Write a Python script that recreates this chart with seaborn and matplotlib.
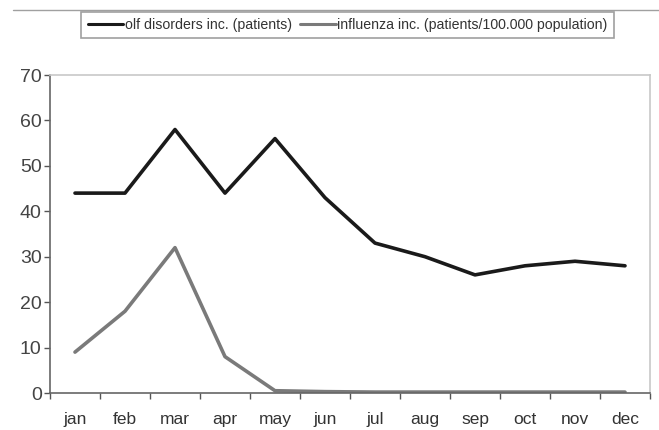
import matplotlib
matplotlib.use("Agg")
import matplotlib.pyplot as plt
from matplotlib.lines import Line2D
from matplotlib.ticker import FixedLocator, NullFormatter
import seaborn as sns
import pandas as pd

months = ["jan", "feb", "mar", "apr", "may", "jun", "jul", "aug", "sep", "oct", "nov", "dec"]
olf_disorders = [44, 44, 58, 44, 56, 43, 33, 30, 26, 28, 29, 28]
influenza = [9, 18, 32, 8, 0.5, 0.3, 0.2, 0.2, 0.2, 0.2, 0.2, 0.2]
series_names = ["olf disorders inc. (patients)", "influenza inc. (patients/100.000 population)"]
yticks = [0, 10, 20, 30, 40, 50, 60, 70]

sns.set_theme(style="white")
plt.rcParams["font.family"] = ["Liberation Sans", "DejaVu Sans"]

df = pd.DataFrame({
    "x": list(range(len(months))) * 2,
    "value": olf_disorders + influenza,
    "series": [series_names[0]] * len(months) + [series_names[1]] * len(months),
})

fig = plt.figure(figsize=(6.59, 4.30), dpi=100)
ax = fig.add_axes([50 / 659, 37 / 430, 600 / 659, 318 / 430])

palette = {series_names[0]: "#1a1a1a", series_names[1]: "#7a7a7a"}
sns.lineplot(data=df, x="x", y="value", hue="series", palette=palette,
             linewidth=2.6, ax=ax, legend=False, sort=False)

ax.set_xlim(-0.5, len(months) - 0.5)
ax.set_ylim(0, 70)
ax.set_xlabel("")
ax.set_ylabel("")

# category axis: ticks between categories, labels centred on them
ax.xaxis.set_major_locator(FixedLocator([i - 0.5 for i in range(len(months) + 1)]))
ax.xaxis.set_major_formatter(NullFormatter())
ax.set_xticks(range(len(months)), minor=True)
ax.set_xticklabels(months, minor=True)
ax.tick_params(axis="x", which="major", direction="out", length=4, width=1, color="#555555", bottom=True)
ax.tick_params(axis="x", which="minor", length=0, labelsize=12.5, labelcolor="#333333", pad=14)

ax.set_yticks(yticks)
ax.set_yticklabels([str(v) for v in yticks])
ax.tick_params(axis="y", direction="out", length=4, width=1, color="#555555", left=True,
               labelsize=14, labelcolor="#444444", pad=2)

for side in ["left", "bottom"]:
    ax.spines[side].set_color("#666666")
    ax.spines[side].set_linewidth(1.2)
for side in ["top", "right"]:
    ax.spines[side].set_visible(True)
    ax.spines[side].set_color("#c8c8c8")
    ax.spines[side].set_linewidth(1.2)

# chart frame line across the top
fig.add_artist(Line2D([13 / 659, 1.0], [1 - 10 / 430, 1 - 10 / 430], color="#a0a0a0", linewidth=1.0))

handles = [Line2D([], [], color=palette[n], linewidth=2.2) for n in series_names]
leg = fig.legend(handles, series_names, loc="center", bbox_to_anchor=(347.5 / 659, 1 - 25 / 430),
                 ncol=2, frameon=True, fancybox=False, fontsize=10.2, handlelength=2.5,
                 handletextpad=0.1, columnspacing=0.6, borderpad=0.45, borderaxespad=0,
                 labelcolor="#333333")
leg.get_frame().set_edgecolor("#888888")
leg.get_frame().set_linewidth(1.2)

fig.savefig("out.png", dpi=100, facecolor="white")
